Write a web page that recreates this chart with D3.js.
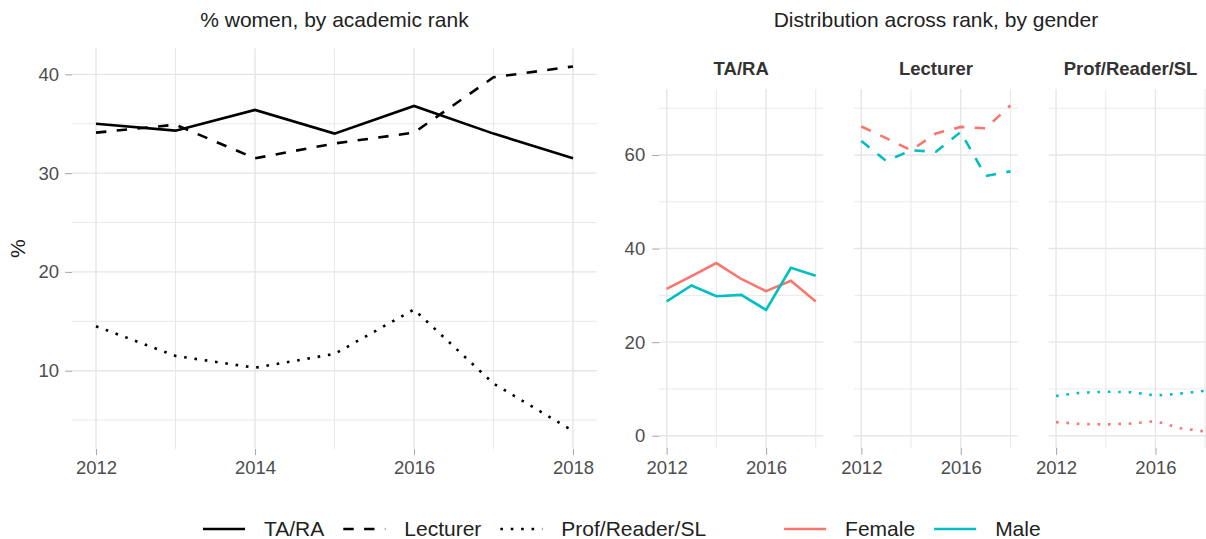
<!DOCTYPE html>
<html>
<head>
<meta charset="utf-8">
<script src="https://cdn.jsdelivr.net/npm/d3@7"></script>
<style>
  body { margin: 0; background: #fff; }
  svg { display: block; font-family: "Liberation Sans", Arial, sans-serif; }
</style>
</head>
<body>
<div id="chart"></div>
<script>
// ---- data ----
const years = [2012, 2013, 2014, 2015, 2016, 2017, 2018];
const ranks = ["TA/RA", "Lecturer", "Prof/Reader/SL"];
const genders = ["Female", "Male"];

// % women, by academic rank
const womenTARA     = [35.0, 34.3, 36.4, 34.0, 36.8, 34.0, 31.5];
const womenLecturer = [34.1, 34.9, 31.5, 33.0, 34.1, 39.7, 40.8];
const womenProf     = [14.5, 11.5, 10.3, 11.7, 16.2, 8.7, 3.9];

// distribution across rank, by gender
const femaleTARA     = [31.4, 34.1, 36.9, 33.5, 30.9, 33.1, 28.7];
const maleTARA       = [28.7, 32.1, 29.8, 30.1, 26.9, 35.9, 34.2];
const femaleLecturer = [66.1, 63.6, 61.0, 64.6, 66.0, 65.7, 70.6];
const maleLecturer   = [63.0, 58.7, 61.0, 60.7, 64.9, 55.5, 56.5];
const femaleProf     = [2.9, 2.5, 2.4, 2.6, 3.1, 1.6, 0.9];
const maleProf       = [8.5, 9.2, 9.4, 9.3, 8.6, 9.0, 9.6];

const womenByRank = {
  "TA/RA": womenTARA,
  "Lecturer": womenLecturer,
  "Prof/Reader/SL": womenProf
};
const distByRank = {
  "TA/RA": { Female: femaleTARA, Male: maleTARA },
  "Lecturer": { Female: femaleLecturer, Male: maleLecturer },
  "Prof/Reader/SL": { Female: femaleProf, Male: maleProf }
};

// ---- layout ----
const width = 1206, height = 539;
const font = "'Liberation Sans', Arial, sans-serif";
const lineW = 2.6;
const gridCol = "#e6e6e6";
const tickCol = "#ababab";
const textCol = "#4d4d4d";
const tickFont = 18.5;

const dashFor = {
  "TA/RA": null,
  "Lecturer": `${4 * lineW},${4 * lineW}`,
  "Prof/Reader/SL": `${lineW},${3 * lineW}`
};
const color = d3.scaleOrdinal().domain(genders).range(["#F8766D", "#00BFC4"]);

function expand(ext, f) {
  const d = (ext[1] - ext[0]) * f;
  return [ext[0] - d, ext[1] + d];
}

const svg = d3.select("#chart")
  .append("svg")
  .attr("width", width)
  .attr("height", height);

// draws major + minor gridlines inside a panel
function drawGrid(g, x, y, xMajor, xMinor, yMajor, yMinor) {
  const [xa, xb] = x.range();
  const [ya, yb] = y.range();
  const hl = (vals, w) => g.selectAll(null).data(vals).enter().append("line")
    .attr("x1", xa).attr("x2", xb)
    .attr("y1", d => y(d)).attr("y2", d => y(d))
    .attr("stroke", gridCol).attr("stroke-width", w);
  const vl = (vals, w) => g.selectAll(null).data(vals).enter().append("line")
    .attr("y1", ya).attr("y2", yb)
    .attr("x1", d => x(d)).attr("x2", d => x(d))
    .attr("stroke", gridCol).attr("stroke-width", w);
  hl(yMinor, 0.9); vl(xMinor, 0.9);
  hl(yMajor, 1.4); vl(xMajor, 1.4);
}

function styleAxis(g) {
  g.attr("font-family", font).attr("font-size", tickFont);
  g.select(".domain").remove();
  g.selectAll(".tick line").attr("stroke", tickCol).attr("stroke-width", 1.1);
  g.selectAll(".tick text").attr("fill", textCol);
}

// ---- left panel: % women ----
const xL = d3.scaleLinear().domain(expand([2012, 2018], 0.05)).range([72.15, 596.85]);
const allWomen = [].concat(...ranks.map(r => womenByRank[r]));
const yL = d3.scaleLinear().domain(expand(d3.extent(allWomen), 0.05)).range([449.2, 48.2]);

const left = svg.append("g");
drawGrid(left, xL, yL, [2012, 2014, 2016, 2018], [2013, 2015, 2017],
  [10, 20, 30, 40], [5, 15, 25, 35]);

left.append("g")
  .attr("transform", `translate(0,${yL.range()[0]})`)
  .call(d3.axisBottom(xL).tickValues([2012, 2014, 2016, 2018]).tickFormat(d3.format("d")).tickSize(6).tickPadding(6))
  .call(styleAxis);
left.append("g")
  .attr("transform", `translate(${xL.range()[0]},0)`)
  .call(d3.axisLeft(yL).tickValues([10, 20, 30, 40]).tickSize(7).tickPadding(6))
  .call(styleAxis);

const lineL = d3.line().x((d, i) => xL(years[i])).y(d => yL(d));
ranks.forEach(r => {
  left.append("path")
    .datum(womenByRank[r])
    .attr("fill", "none")
    .attr("stroke", "#000")
    .attr("stroke-width", lineW)
    .attr("stroke-dasharray", dashFor[r])
    .attr("d", lineL);
});

svg.append("text")
  .attr("x", d3.mean(xL.range())).attr("y", 27)
  .attr("text-anchor", "middle")
  .attr("font-family", font).attr("font-size", 21)
  .attr("fill", "#222")
  .text("% women, by academic rank");

svg.append("text")
  .attr("transform", `translate(25,${d3.mean(yL.range())}) rotate(-90)`)
  .attr("text-anchor", "middle")
  .attr("font-family", font).attr("font-size", 21)
  .attr("fill", "#222")
  .text("%");

// ---- right panels: distribution by gender ----
const panelW = 164, panelStep = 194.7, panelLeft = 659.2;
const allDist = [].concat(...ranks.map(r => genders.map(s => distByRank[r][s])).flat());
const yR = d3.scaleLinear().domain(expand(d3.extent(allDist), 0.05)).range([447.8, 89.1]);

ranks.forEach((r, k) => {
  const x0 = panelLeft + k * panelStep;
  const x = d3.scaleLinear().domain(expand([2012, 2018], 0.05)).range([x0, x0 + panelW]);
  const g = svg.append("g");
  drawGrid(g, x, yR, [2012, 2016], [2014, 2018], [0, 20, 40, 60], [10, 30, 50, 70]);

  g.append("g")
    .attr("transform", `translate(0,${yR.range()[0]})`)
    .call(d3.axisBottom(x).tickValues([2012, 2016]).tickFormat(d3.format("d")).tickSize(7).tickPadding(6))
    .call(styleAxis);
  if (k === 0) {
    g.append("g")
      .attr("transform", `translate(${x0},0)`)
      .call(d3.axisLeft(yR).tickValues([0, 20, 40, 60]).tickSize(7).tickPadding(7))
      .call(styleAxis);
  }

  const line = d3.line().x((d, i) => x(years[i])).y(d => yR(d));
  genders.forEach(s => {
    g.append("path")
      .datum(distByRank[r][s])
      .attr("fill", "none")
      .attr("stroke", color(s))
      .attr("stroke-width", lineW)
      .attr("stroke-dasharray", dashFor[r])
      .attr("d", line);
  });

  // facet strip
  g.append("text")
    .attr("x", x0 + panelW / 2).attr("y", 75)
    .attr("text-anchor", "middle")
    .attr("font-family", font).attr("font-size", 18.5).attr("font-weight", "bold")
    .attr("fill", "#333")
    .text(r);
});

svg.append("text")
  .attr("x", panelLeft + (2 * panelStep + panelW) / 2).attr("y", 27)
  .attr("text-anchor", "middle")
  .attr("font-family", font).attr("font-size", 21)
  .attr("fill", "#222")
  .text("Distribution across rank, by gender");

// ---- legend ----
const legendY = 529;
const legend = svg.append("g").attr("font-family", font).attr("font-size", 21);
let cx = 203;
const keyW = 42, keyGap = 19, itemGap = 19, groupGap = 78;

function legendItem(label, stroke, dash) {
  legend.append("line")
    .attr("x1", cx).attr("x2", cx + keyW)
    .attr("y1", legendY).attr("y2", legendY)
    .attr("stroke", stroke).attr("stroke-width", lineW)
    .attr("stroke-dasharray", dash);
  const t = legend.append("text")
    .attr("x", cx + keyW + keyGap).attr("y", legendY)
    .attr("dy", "0.33em")
    .attr("fill", "#222")
    .text(label);
  cx += keyW + keyGap + t.node().getComputedTextLength();
}

ranks.forEach((r, i) => {
  legendItem(r, "#000", dashFor[r]);
  cx += i < ranks.length - 1 ? itemGap : groupGap;
});
genders.forEach(s => {
  legendItem(s, color(s), null);
  cx += itemGap;
});
</script>
</body>
</html>
